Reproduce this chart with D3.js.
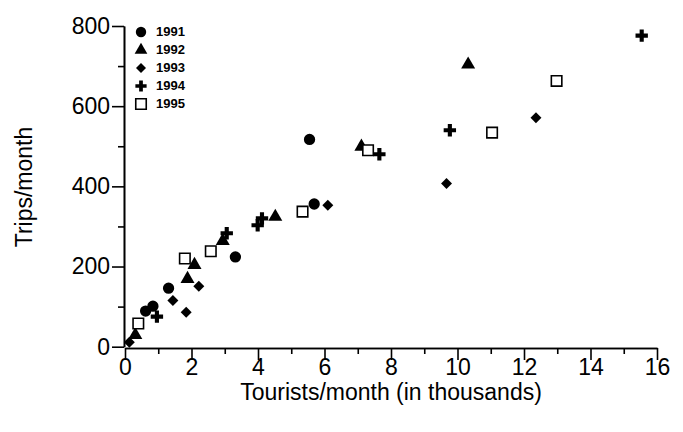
<!DOCTYPE html>
<html><head><meta charset="utf-8">
<script src="https://cdn.jsdelivr.net/npm/d3@7"></script>
<style>body{margin:0;background:#fff}</style></head>
<body><svg id="c" width="683" height="432"></svg>
<script>
const years = ['1991','1992','1993','1994','1995'];
const symbols = [d3.symbolCircle, d3.symbolTriangle, d3.symbolSquare, d3.symbolCross, d3.symbolSquare];
const tourists1991 = [0.62, 0.84, 1.31, 3.32, 5.69, 5.55];
const trips1991 = [89, 101, 146, 224, 356, 517];
const tourists1992 = [0.31, 1.88, 2.09, 2.94, 4.52, 7.11, 10.32];
const trips1992 = [29, 169, 204, 264, 324, 499, 704];
const tourists1993 = [0.13, 1.44, 1.84, 2.22, 6.10, 9.67, 12.36];
const trips1993 = [11, 115, 86, 151, 353, 407, 571];
const tourists1994 = [0.96, 3.06, 3.99, 4.12, 7.65, 9.77, 15.54];
const trips1994 = [75, 283, 303, 320, 480, 540, 776];
const tourists1995 = [0.40, 1.80, 2.58, 5.34, 7.31, 11.04, 12.98];
const trips1995 = [58, 220, 238, 337, 490, 534, 663];
const seriesX = [tourists1991, tourists1992, tourists1993, tourists1994, tourists1995];
const seriesY = [trips1991, trips1992, trips1993, trips1994, trips1995];

const svg = d3.select('#c');
const x = d3.scaleLinear().domain([0,16]).range([125,657]);
const y = d3.scaleLinear().domain([0,800]).range([346.7,26]);
const font = 'Liberation Sans, Arial, sans-serif';

const xAxis = svg.append('g').attr('transform','translate(0,348)')
  .call(d3.axisBottom(x).tickValues(d3.range(0,17,2)).tickSize(12).tickSizeOuter(0));
svg.append('g').attr('transform','translate(0,348)')
  .call(d3.axisBottom(x).tickValues(d3.range(1,16,2)).tickSize(6).tickFormat('').tickSizeOuter(0));
const yAxis = svg.append('g').attr('transform','translate(124,0)')
  .call(d3.axisLeft(y).tickValues(d3.range(0,801,200)).tickSize(12).tickSizeOuter(0));
svg.append('g').attr('transform','translate(124,0)')
  .call(d3.axisLeft(y).tickValues(d3.range(100,800,200)).tickSize(6).tickFormat('').tickSizeOuter(0));
svg.selectAll('.domain, .tick line').attr('stroke','#000').attr('stroke-width',1.6);
svg.selectAll('.tick text').attr('font-family',font).attr('font-size',23).attr('fill','#000');
xAxis.selectAll('.tick text').attr('y',11);
yAxis.selectAll('.tick text').attr('x',-14);

svg.append('text').attr('x',391).attr('y',400).attr('text-anchor','middle')
  .attr('font-family',font).attr('font-size',23).text('Tourists/month (in thousands)');
svg.append('text').attr('transform','translate(32,187) rotate(-90)').attr('text-anchor','middle')
  .attr('font-family',font).attr('font-size',23).text('Trips/month');

function mark(g, i, size) {
  const sq = i === 4;
  g.append('path').attr('d', d3.symbol().type(symbols[i]).size(sq ? 110 : size)())
    .attr('transform', i === 2 ? 'rotate(45)' : null)
    .attr('fill', sq ? '#fff' : '#000').attr('stroke','#000').attr('stroke-width', sq ? 1.6 : 0);
}
years.forEach((yr,i) => {
  seriesX[i].forEach((v,j) => {
    const g = svg.append('g').attr('transform',`translate(${x(v)},${y(seriesY[i][j])})`);
    mark(g, i, i === 0 ? 100 : i === 2 ? 60 : 85);
  });
  const lg = svg.append('g').attr('transform',`translate(141,${32+i*18})`);
  mark(lg, i, i === 0 ? 85 : i === 2 ? 50 : 70);
  lg.append('text').attr('x',15).attr('y',4).attr('font-family',font)
    .attr('font-size',13).attr('font-weight','bold').text(yr);
});
</script></body></html>
